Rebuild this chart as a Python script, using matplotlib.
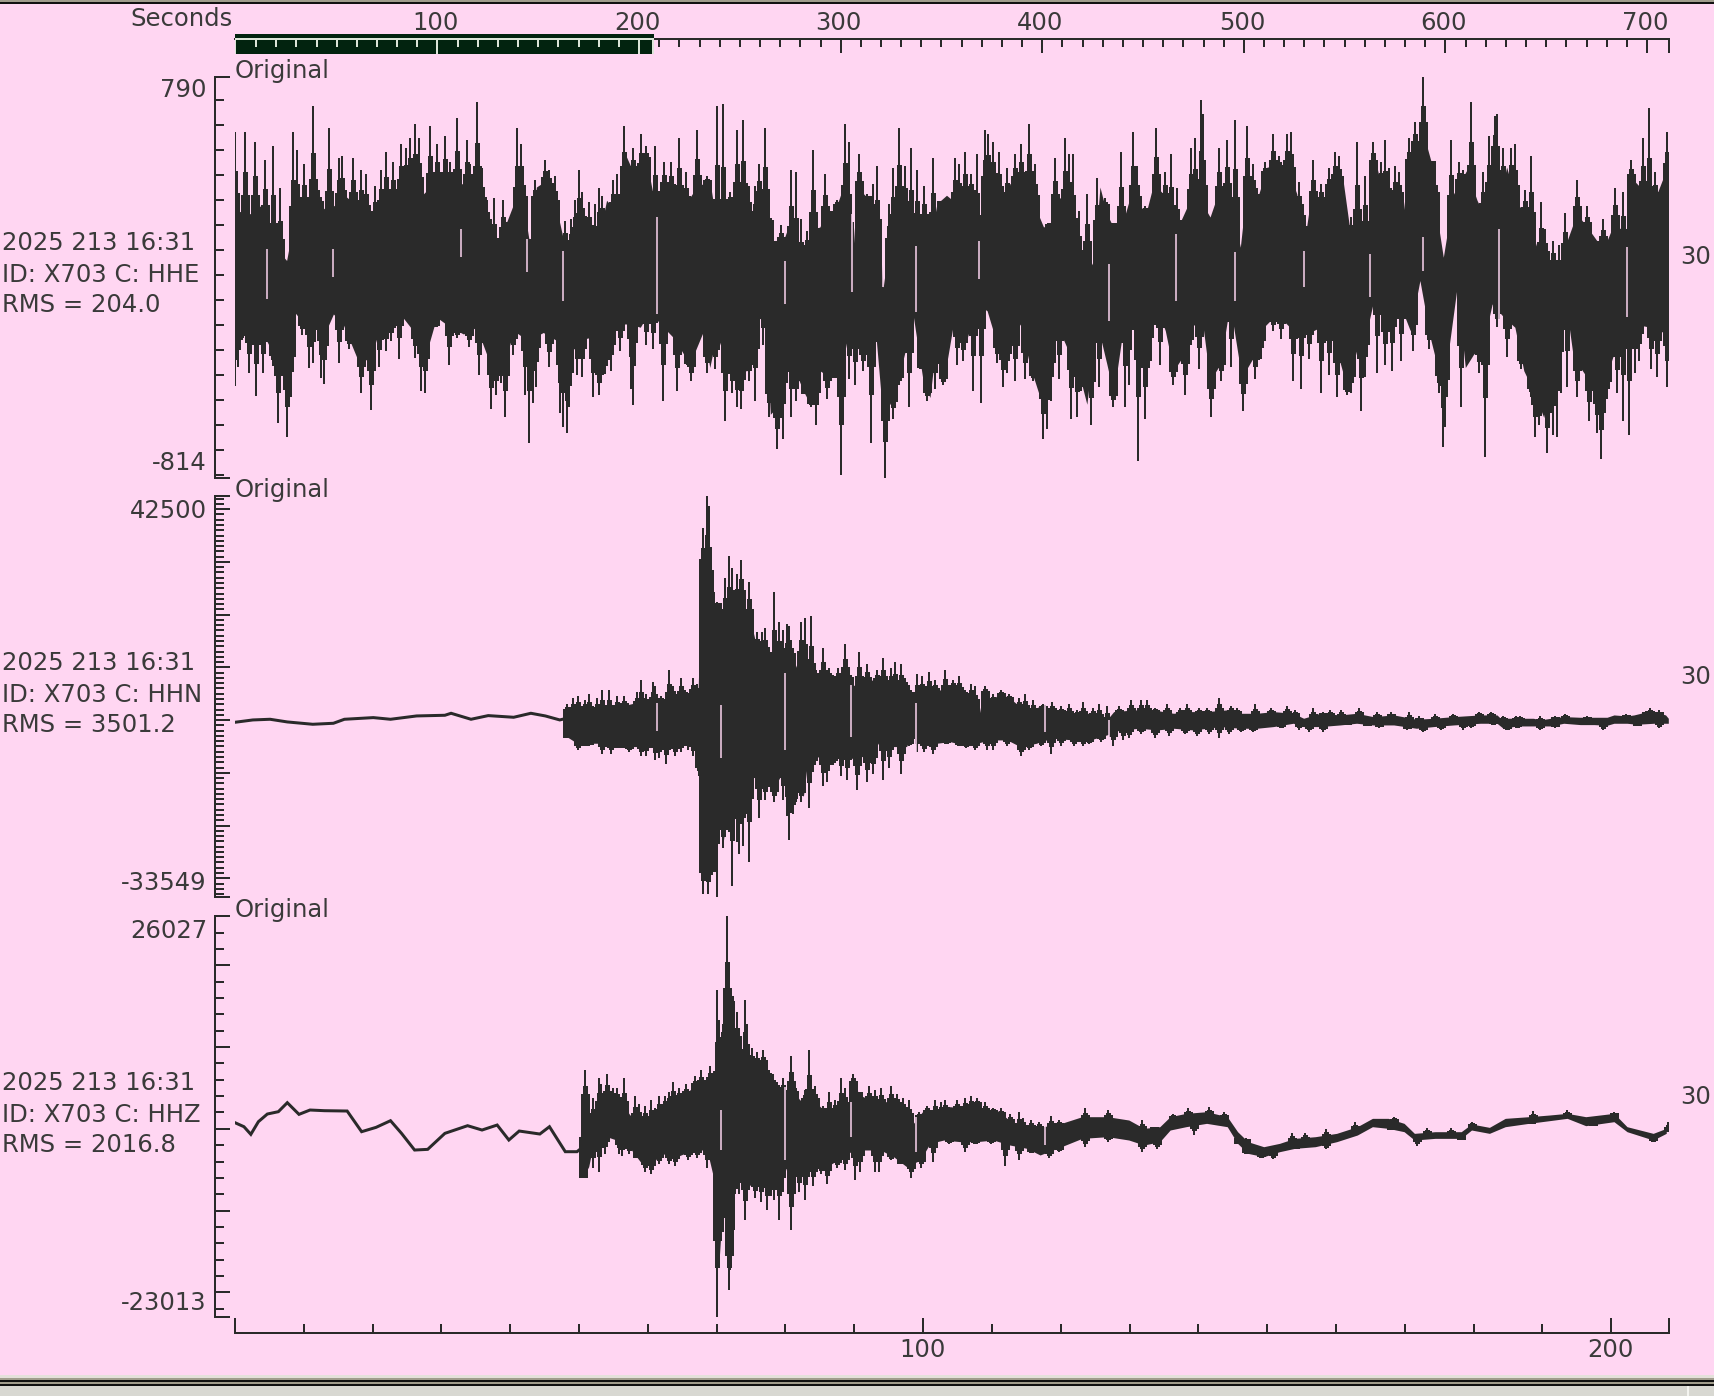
import numpy as np
import matplotlib
matplotlib.use("Agg")
import matplotlib.pyplot as plt
from matplotlib.patches import Rectangle
from matplotlib.transforms import blended_transform_factory
from matplotlib.ticker import FixedLocator, NullFormatter

W, H = 1714, 1396
BG = "#FFD6F2"
INK = "#2A2A2A"
TXT = "#3A3A3A"
GREEN = "#02230F"
LIGHT = "#DCE4D8"

# ---- labels
CHANNELS = ["HHE", "HHN", "HHZ"]
STATION = "X703"
STAMP = "2025 213 16:31"
RMS = ["204.0", "3501.2", "2016.8"]
Y_TOP = [790, 42500, 26027]
Y_BOT = [-814, -33549, -23013]
TOP_LABELS = [100, 200, 300, 400, 500, 600, 700]
BOTTOM_LABELS = [100, 200]

# ---- HHE
E_BODY_UP_T = [0,2.2,4.1,4.6,7.5,8.5,10.9,13.3,14.8,16.2,18.6,20.1,21.6,23.5,25.4,27.4,29.3,32.2,35.1,36.6,37.5,38.0,39.0,40.5,41.9,42.9,43.8,45.3,47.0,48.4,49.7,51.1,52.1,53.0,54.0,56.0,56.9,58.4,59.8,61.3,62.3,64.2,65.2,67.1,
 69.0,70.5,71.5,72.9,74.4,75.1,76.3,77.5,78.2,79.7,80.4,81.4,82.6,83.6,85.0,86.0,87.2,88.4,89.6,90.4,91.8,92.8,93.7,94.2,95.2,96.7,98.6,100.0,101.0,102.0,103.4,104.9,106.8,108.0,109.3,110.7,111.7,112.6,115.1,116.5,117.5,118.5,119.4,121.4,122.3,123.3,124.8,125.7,126.7,127.4,129.1,130.1,131.5,132.5,133.5,134.9,136.6,
 138.8,140.3,141.7,142.7,144.6,146.1,147.0,148.5,150.0,151.4,152.9,154.3,155.3,156.3,158.2,159.6,161.1,162.1,163.5,164.7,165.5,167.4,168.9,169.8,170.8,172.7,173.9,174.7,175.6,177.1,179.0,180.5,181.9,182.9,183.6,184.8,186.3,187.7,189.2,190.2,191.1,192.6,193.6,195.0,196.5,197.9,199.4,200.8,202.0,202.8,204.2,205.7,207.6,208.2]
E_BODY_UP = [256,243,283,150,56,203,310,256,283,310,256,216,283,323,390,323,377,363,363,203,150,29,176,283,283,109,350,377,230,56,190,216,69,163,297,230,470,377,457,243,350,323,270,350,
 377,109,283,310,283,150,337,230,136,136,190,43,29,176,190,256,256,350,2,350,310,190,136,-51,150,310,136,230,123,283,317,283,337,136,403,350,230,363,390,256,190,203,323,256,29,109,29,350,243,203,216,310,270,256,363,323,163,
 297,297,230,310,323,109,337,297,430,430,430,323,109,297,297,377,363,163,203,136,484,256,323,256,484,564,444,230,69,323,417,297,216,564,270,430,283,243,109,69,56,-11,136,243,190,136,136,230,109,390,350,256,390,417]
E_BODY_LO_T = [0.2,1.7,3.6,5.1,6.5,7.7,8.5,10.4,11.9,12.8,14.3,15.7,17.7,19.6,21.1,22.5,24.0,25.9,27.9,29.3,31.3,33.2,35.1,37.1,39.0,40.5,41.9,43.4,44.8,46.8,48.2,49.7,51.6,53.0,54.5,56.0,57.4,58.9,60.3,61.8,63.7,66.1,68.1,
 69.0,70.0,71.5,72.9,74.4,75.3,77.0,77.8,79.2,79.9,81.2,82.6,83.6,85.0,86.5,87.9,89.4,90.8,92.3,93.0,94.0,95.2,96.7,98.6,100.0,101.0,102.0,103.0,104.4,106.3,107.8,109.3,111.2,112.6,114.1,115.6,117.0,118.2,119.4,120.9,122.3,123.8,125.2,126.7,127.7,129.1,130.6,132.0,133.5,135.2,136.4,138.3,
 138.8,140.7,141.7,143.2,144.6,146.3,148.0,149.5,151.4,153.3,155.3,156.7,158.7,160.4,161.6,163.0,164.5,165.7,167.4,168.9,170.8,172.2,173.7,174.9,176.1,177.6,178.8,180.0,181.4,182.7,184.4,186.0,187.3,188.7,190.2,191.6,193.1,194.5,196.5,198.4,199.9,201.8,203.3,205.7,208.2]
E_BODY_LO = [-225,-238,-211,-292,-358,-412,-145,-211,-158,-252,-158,-198,-332,-345,-211,-198,-158,-225,-305,-171,-211,-238,-211,-358,-372,-225,-252,-252,-232,-265,-372,-265,-252,-385,-252,-198,-198,-211,-145,-198,-252,-358,-225,
 -372,-238,-358,-385,-385,-252,-118,-559,-519,-252,-372,-466,-519,-385,-412,-412,-198,-305,-292,-198,-519,-519,-385,-171,-425,-492,-252,-425,-198,-265,-118,-145,-319,-278,-198,-372,-492,-358,-198,-292,-358,-519,-185,-358,-479,-211,-105,-345,-91,-225,-385,-305,
 -198,-211,-425,-358,-118,-412,-332,-211,-158,-211,-185,-225,-198,-332,-452,-305,-225,-78,-211,-91,-225,-24,-252,-385,-358,-51,-372,-319,-278,-118,-171,-211,-385,-466,-572,-385,-51,-332,-412,-506,-358,-198,-198,-211,-238]
E_TIP_UP_T = [0.0,1.4,2.9,4.3,5.5,6.6,8.4,9.0,10.1,11.3,12.2,13.6,15.1,15.6,17.1,18.3,19.1,20.3,21.2,22.0,22.9,24.1,24.9,25.5,26.1,26.7,28.4,29.3,30.5,31.3,32.2,33.7,34.2,35.1,35.9,36.6,37.7,38.9,39.5,41.0,41.5,41.8,42.7,43.6,45.0,45.6,46.5,47.9,48.8,49.4,50.0,50.5,51.4,52.3,52.9,53.4,54.9,55.5,56.6,57.8,59.0,59.8,61.0,62.4,63.3,64.5,65.6,67.1,68.6,70.0,
 70.9,72.0,72.9,73.8,74.7,75.5,76.1,77.0,77.6,79.3,80.8,81.6,82.2,83.1,84.0,84.8,85.7,86.6,87.5,88.6,89.2,90.7,91.8,92.7,93.3,95.0,95.6,96.5,97.3,98.2,99.1,100.2,101.4,102.6,104.6,105.2,106.1,106.9,107.8,109.0,109.5,110.1,111.0,112.2,113.3,114.2,115.4,116.2,118.3,119.1,120.6,121.2,121.8,122.6,123.8,125.2,126.4,127.6,128.7,130.5,131.1,132.2,133.9,135.1,136.0,136.9,138.9,139.5,
 140.4,140.7,143.0,144.1,145.3,147.0,147.9,148.5,149.7,150.8,151.7,152.9,153.4,154.6,155.5,156.6,157.8,159.0,159.8,160.4,162.2,163.0,164.2,165.4,166.5,167.1,167.7,168.6,169.1,170.6,171.5,172.6,173.8,174.4,176.7,177.9,178.4,179.6,181.3,182.2,183.1,183.4,184.3,185.4,186.0,187.5,188.3,189.8,190.4,191.5,192.4,193.3,195.0,196.5,198.8,200.5,201.7,202.9,204.6,205.5,206.4,208.1]
E_TIP_UP = [569,569,529,457,513,345,569,497,441,674,337,585,465,473,465,417,401,353,417,489,449,521,505,545,601,545,593,521,553,449,625,537,441,690,425,297,305,297,208,585,521,433,144,377,457,417,393,216,224,297,417,329,289,281,345,313,377,401,593,505,561,513,513,449,449,545,409,577,393,674,
 682,329,577,617,353,353,441,585,232,200,417,409,224,176,497,184,401,232,297,601,529,481,321,361,433,281,425,585,433,505,417,353,465,289,465,441,489,401,481,577,561,529,489,425,481,521,601,441,208,465,545,481,481,256,321,385,305,208,489,569,433,273,585,409,481,345,505,545,
 698,642,505,537,617,593,441,345,449,561,473,561,569,369,240,457,361,425,489,473,232,529,393,529,449,537,425,433,409,545,609,790,449,409,537,449,417,690,409,553,633,641,505,505,521,337,473,289,184,136,120,248,377,273,224,345,329,457,545,666,409,569]
E_TIP_LO_T = [0,0.5,1.1,2.0,3.1,4.0,5.5,6.3,7.5,8.1,9.8,10.7,11.3,12.5,13.0,15.1,16.5,18.3,19.7,20.9,22.0,22.6,23.8,26.1,27.0,27.6,29.0,31.1,32.2,34.0,35.4,37.2,38.0,38.6,39.2,40.4,42.1,42.7,43.3,43.8,45.6,47.3,47.6,48.2,48.5,49.7,50.5,52.0,52.9,53.7,54.6,56.0,57.5,57.8,59.8,60.7,62.2,64.2,65.9,66.2,68.6,69.7,
 71.2,72.3,72.9,73.5,74.7,75.5,76.7,77.6,78.7,79.6,80.8,81.6,82.8,83.7,84.5,86.0,88.0,89.2,90.1,91.2,92.4,93.0,94.4,95.6,96.5,97.9,99.7,100.5,101.7,102.9,104.9,105.8,107.2,108.4,110.7,111.6,112.2,113.3,114.8,115.9,117.4,118.0,118.6,119.7,121.5,122.3,122.9,124.4,125.5,127.6,129.3,129.9,131.3,132.2,133.1,134.5,136.3,138.0,138.6,
 140.1,141.8,142.7,143.3,144.7,146.5,148.2,149.1,150.8,152.0,153.7,154.9,156.1,157.8,159.0,160.1,161.6,162.2,163.6,164.2,165.9,167.1,168.1,169.4,171.2,173.5,175.0,175.5,175.8,178.2,180.8,181.6,183.4,184.8,186.9,188.3,188.9,189.5,190.7,191.5,192.1,192.7,193.6,195.0,196.8,197.9,198.5,199.4,200.8,201.7,202.6,203.4,204.0,205.8,206.6,208.1]
E_TIP_LO = [-447,-369,-252,-393,-487,-393,-367,-593,-649,-490,-241,-375,-353,-415,-439,-353,-297,-474,-543,-369,-305,-265,-337,-334,-466,-474,-209,-361,-252,-289,-401,-538,-482,-433,-570,-321,-482,-674,-514,-449,-369,-554,-610,-634,-530,-401,-409,-490,-482,-399,-385,-305,-457,-522,-281,-297,-506,-466,-369,-425,-393,-377,
 -586,-474,-530,-538,-425,-506,-281,-570,-698,-658,-570,-506,-466,-530,-602,-498,-802,-417,-441,-385,-674,-337,-814,-578,-441,-530,-377,-506,-457,-441,-361,-345,-466,-514,-353,-449,-393,-425,-417,-425,-658,-618,-506,-417,-578,-570,-466,-602,-449,-530,-530,-441,-746,-578,-345,-361,-441,-482,-313,
 -377,-570,-337,-425,-369,-546,-417,-337,-225,-257,-425,-457,-337,-474,-401,-490,-482,-474,-546,-409,-393,-361,-385,-345,-305,-297,-474,-690,-610,-530,-393,-730,-211,-329,-377,-490,-650,-602,-714,-642,-650,-474,-449,-490,-586,-634,-738,-498,-474,-586,-642,-393,-345,-377,-409,-449]
E_GAP_T = [4.6,14.2,32.8,42.4,47.7,61.3,80.0,89.6,94.2,98.9,108.1,127.0,136.7,145.3,155.3,164.9,172.6,183.7,202.3]
E_GAP_HI = [103,103,183,143,96,230,56,243,69,116,136,42,163,89,96,83,150,183,109]
E_GAP_LO = [-98,-11,69,9,-105,-158,-118,-71,-51,-151,-18,-185,-105,-105,-51,-91,16,-185,-171]

# ---- HHN
N_QUIET_T = [0,2.6,5.1,7.6,11.3,14.3,15.9,20.1,22.6,26.4,30.5,31.4,34.3,36.8,40.5,43.0,45.1,47.2,48.0]
N_QUIET = [-412,30,157,-349,-792,-602,157,473,157,789,915,1294,157,852,536,1294,789,30,283]
N_BODY_UP_T = [48.2,50.1,52.1,54.0,55.9,57.9,59.8,61.8,63.7,65.7,67.3,67.8,68.6,69.3,70.1,70.5,71.0,71.9,73.4,74.9,75.8,77.3,78.2,79.2,79.8,80.7,81.2,82.1,83.1,84.5,86.0,87.5,88.9,89.6,90.9,92.8,94.7,96.2,97.6,98.6,99.1,100.5,102.5,104.4,105.9,107.3,108.0,108.8,109.7,111.2,112.6,114.1,116.0,
 117.0,118.9,121.8,124.3,126.7,127.7,130.6,133.5,136.4,138.3,141.2,144.1,146.1,148.5,150.9,153.8,155.3,157.7,160.6,163.0,165.4,168.4,171.7,174.2,177.1,181.0,183.4,183.9,186.3,188.7,189.7,191.2,193.1,195.5,197.5,199.4,200.4,202.3,203.3,204.7,206.2,207.9,208.3]
N_BODY_UP = [1930,2240,1930,1930,2560,3190,3190,3820,4460,5090,5400,29100,27840,21520,22150,3190,19310,19310,23420,19000,13940,12670,9200,12040,9510,13300,9200,12040,8250,8250,8250,7620,9200,6350,7300,7620,7300,6350,6350,3820,4460,5720,5720,6350,5090,4460,30,5720,3510,5090,4140,2560,1930,
 2680,1930,1290,1290,30,1610,1930,1930,1290,1610,1610,1930,1290,1290,1610,1290,350,1290,980,1290,660,980,160,350,660,980,980,346,346,346,30,346,662,536,536,536,978,788,978,1420,1610,978,346]
N_BODY_LO_T = [48.2,50.1,52.1,53.8,55.5,56.9,58.9,60.8,61.8,63.7,65.7,67.1,67.6,67.8,69.5,69.8,70.5,71.0,71.9,72.4,73.9,75.1,76.3,77.8,78.2,79.5,80.2,80.7,81.6,82.6,83.3,84.5,86.5,87.9,88.9,89.9,90.9,92.3,93.8,95.7,97.6,98.6,100.0,102.0,103.9,105.9,107.8,109.7,112.2,114.1,116.5,
 117.0,118.9,121.8,124.3,126.7,128.6,131.5,134.0,136.4,139.3,143.2,146.1,148.5,150.9,153.8,155.3,157.7,160.6,163.0,165.4,168.4,171.7,174.2,177.1,181.0,183.4,184.3,186.3,188.7,191.2,193.1,195.5,197.5,199.4,200.4,202.3,203.7,206.2,207.9,208.3]
N_BODY_LO = [-3130,-4710,-4390,-4390,-5020,-5020,-5020,-4390,-4390,-5020,-3760,-5020,-10710,-27460,-28410,-15450,-6920,-22720,-11980,-14500,-12610,-10710,-11340,-11980,-13240,-10080,-5660,-16400,-10710,-14500,-6920,-6920,-7550,-6290,-6290,-7550,-6920,-6920,-3760,-5020,-5020,-1860,-4390,-4390,-4080,-4710,-4390,-3760,-3760,-5020,-4390,
 -4080,-3450,-3760,-3760,-2810,-1870,-1550,-1870,-1550,-1870,-1230,-1550,-1550,-1230,-600,-1230,-1230,-920,-600,-920,-920,-1550,-1230,-920,-600,-600,-1550,-1110,-1110,-1110,-602,-855,-855,-981,-602,-602,-792,-602,-602,-602]
N_TIP_UP_T = [48.2,49.1,49.9,50.8,51.4,52.6,53.4,54.3,55.5,56.6,58.4,59.0,59.8,60.7,61.0,61.9,63.0,63.6,64.8,65.4,66.5,67.1,68.0,68.6,68.9,69.1,70.0,70.3,71.2,71.8,72.3,72.9,73.5,74.7,75.8,76.6,77.0,78.4,79.0,79.6,80.2,80.5,80.8,82.2,82.8,83.7,84.5,85.4,86.3,87.7,88.6,89.2,90.7,91.8,93.3,94.1,95.3,95.9,96.8,97.3,98.2,99.1,99.9,100.8,101.7,103.2,104.3,105.2,106.1,106.9,107.5,109.0,110.1,111.3,112.5,113.9,114.8,115.9,
 117.4,118.8,120.0,121.2,122.3,123.2,124.7,125.5,126.7,128.4,130.2,131.6,132.5,133.7,135.4,137.3,138.3,140.1,141.2,143.0,144.7,145.6,148.2,150.5,152.9,154.0,156.6,158.1,159.2,160.7,163.3,165.9,168.0,170.6,172.0,174.4,177.0,180.8,182.5,184.3,186.1,186.8,189.7,191.9,193.3,196.5,202.1,205.0,205.6,207.0]
N_TIP_UP = [3070,4200,4580,3820,4960,4200,5720,5720,4580,4580,5340,7620,4960,7240,6480,4580,9510,6480,7990,5720,7990,6860,36440,42500,40600,27330,22400,12670,26960,31130,28850,27710,30370,26200,16720,16720,17470,24300,18610,17100,18230,17850,13680,18610,19370,19750,9510,13680,9890,9890,14440,9130,12920,10650,9510,11790,9890,11030,10650,7990,5720,8750,8370,9130,7620,9510,7620,8370,5720,6860,6480,6480,4960,5720,4960,4200,4960,3820,
 3060,3440,2680,3060,1930,3440,2300,3060,2680,2680,3820,3820,3820,2300,3060,2300,3060,2300,2300,4200,2680,2300,3060,2300,2680,1930,2300,1550,1930,1930,2300,1550,1550,1550,790,1170,1170,1550,1550,788,788,788,788,788,1168,788,1168,1800,2305,1926]
N_TIP_LO_T = [48.2,49.9,50.8,51.4,53.4,54.6,55.2,56.3,57.2,59.0,59.8,61.0,61.6,62.7,63.9,64.8,65.9,66.5,67.1,67.4,68.0,68.8,69.4,70.0,70.3,70.9,71.5,71.8,72.3,72.9,73.2,73.8,74.4,74.7,75.2,76.1,77.0,78.4,79.6,80.2,80.5,81.1,81.6,82.2,83.4,84.0,85.4,86.0,86.9,88.0,88.9,90.4,91.8,92.7,94.1,95.0,96.8,97.9,99.1,100.2,101.4,103.4,105.2,106.3,107.5,109.3,110.1,112.2,114.2,115.4,
 117.1,118.6,120.0,122.0,123.2,124.1,125.8,127.6,129.0,129.9,131.6,133.7,135.7,138.0,139.8,141.5,143.0,144.4,146.2,148.0,152.0,154.6,156.1,158.1,161.6,164.5,166.2,170.3,172.6,175.2,178.4,179.6,182.8,184.8,186.3,189.6,191.9,198.8,203.7,207.0]
N_TIP_LO = [-3380,-5660,-4900,-4520,-6410,-6410,-5280,-5280,-6040,-6790,-6790,-7550,-7170,-8310,-6790,-6040,-5660,-6790,-7550,-10590,-32960,-32960,-28790,-33549,-21200,-24240,-17790,-21200,-31440,-23100,-25370,-23860,-17790,-26890,-10960,-18550,-15140,-15520,-15140,-18170,-22720,-17790,-15520,-15520,-16650,-9830,-12480,-11720,-8560,-10590,-11340,-13240,-11720,-10210,-11340,-9070,-10210,-4900,-6040,-6040,-6410,-4520,-4900,-5280,-5660,-5660,-5660,-4900,-6790,-5660,
 -4900,-6420,-4900,-4900,-4900,-4520,-4140,-4900,-3760,-3380,-2630,-3380,-3000,-2630,-3000,-2630,-3380,-2630,-2250,-2250,-1490,-1870,-2250,-2250,-730,-1110,-1490,-1870,-2250,-1870,-1870,-1490,-730,-1866,-1487,-1866,-1487,-1866,-1110,-1487]
N_GAP_T = [61.3,70.6,80.0,89.5,98.9,117.7,127.0]
N_GAP_HI = [3190,2880,8880,6670,3190,3190,30]
N_GAP_LO = [-2000,-7240,-5660,-3130,-5970,-2180,-3760]

# ---- HHZ
Z_QUIET_T = [0,1.3,2.3,3.4,4.7,6.3,7.6,9.3,10.9,13.0,16.3,18.4,20.5,22.6,24.2,26.1,28.0,30.5,33.8,35.9,38.1,39.8,41.3,44.3,45.7,48.0,49.7,50.6]
Z_QUIET = [750,260,-677,872,1810,2095,3196,1769,2299,2218,2177,-351,179,994,-555,-2594,-2512,-555,383,-147,464,-1370,-270,-636,260,-2797,-2797,-2186]
Z_BODY_UP_T = [50.2,50.6,51.8,52.6,53.5,55.9,57.4,58.9,61.0,61.8,63.7,65.6,67.1,68.6,69.5,70.5,71.0,71.9,72.4,73.4,74.9,76.8,78.2,79.7,80.7,82.1,84.1,86.0,87.5,89.2,89.6,90.8,92.8,95.7,97.1,98.6,100.1,102.0,103.9,105.9,107.8,108.3,110.7,112.2,114.1,117.5,
 120.1,123.1,126.8,129.9,132.1,134.4,135.9,138.2,141.2,144.2,145.7,147.2,149.5,151.8,154.0,157.0,160.1,163.1,165.3,167.6,169.9,171.4,174.4,178.2,179.7,182.3,184.6,188.0,191.0,193.6,196.3,200.4,202.3,206.1,208.0]
Z_BODY_UP = [-960,3930,670,1890,4130,3520,1690,1080,1080,2300,3520,4340,5560,5560,6380,2300,12900,16160,12900,8010,8010,8010,5150,4340,5150,3520,3520,1890,2300,3110,5970,4130,3320,3320,2300,670,2300,1890,2710,2500,3110,2300,2300,1280,260,260,
 668,1483,1483,1076,56,260,1483,1891,2095,1483,-351,-1574,-2186,-1778,-1167,-963,-555,260,1280,1280,668,-555,-351,-351,586,179,1280,1483,1687,1891,1483,1891,260,-555,56]
Z_BODY_LO_T = [50.2,50.6,51.4,52.1,54.0,56.9,58.9,60.8,61.8,64.2,66.6,68.6,69.8,70.3,71.0,71.7,72.2,73.4,74.4,76.3,78.2,79.7,80.7,82.1,84.1,86.0,88.4,89.9,91.8,93.8,95.7,97.6,99.6,101.0,103.0,105.4,107.8,110.2,112.6,115.1,117.0,
 120.1,123.1,126.8,129.9,132.1,134.4,135.9,138.2,141.2,144.2,145.7,147.2,149.5,151.8,154.0,157.0,160.1,163.1,165.3,167.6,169.9,171.4,174.4,178.2,179.7,182.3,184.6,188.0,191.0,193.6,196.3,200.4,202.3,206.1,208.0]
Z_BODY_LO = [-4020,-5860,-4630,-1780,-960,-1780,-4020,-4220,-3000,-3410,-2590,-2590,-6870,-16860,-7490,-15840,-7490,-4630,-7080,-6260,-6260,-3820,-6670,-5040,-4630,-4630,-3410,-2590,-2590,-2590,-3410,-4630,-3820,-1780,-1370,-1570,-1570,-1370,-1980,-2390,-3200,
 -2186,-1167,-963,-1370,-1982,-1574,-147,260,668,260,-1778,-3001,-3409,-2797,-2390,-2186,-1574,-759,260,56,-351,-1370,-1167,-1167,-147,-555,260,668,994,1280,383,872,-351,-1370,-555]
Z_TIP_UP_T = [50.8,51.4,52.0,52.9,53.2,54.0,54.9,55.5,56.6,58.1,58.7,59.6,60.4,61.0,61.6,62.5,63.0,63.6,64.5,65.6,66.8,67.7,68.4,69.1,70.0,70.3,70.9,71.5,71.8,72.0,72.9,73.2,74.1,74.4,75.2,75.8,76.7,77.6,78.2,78.7,79.6,80.8,81.3,82.8,83.4,84.3,85.4,86.3,87.2,88.0,88.6,89.2,89.8,90.6,92.1,93.0,93.9,95.3,96.2,97.1,97.9,99.4,100.5,101.7,102.6,103.2,104.9,106.1,106.9,107.8,109.0,110.1,111.3,112.7,113.9,114.5,115.7,116.8,118.6,119.7,
 123.5,126.8,131.8,133.6,136.3,138.5,141.6,143.8,146.9,153.6,155.5,158.6,162.7,168.4,173.3,176.7,179.7,188.7,193.6,200.4,208.2]
Z_TIP_UP = [7190,2050,3770,6210,5480,6700,4990,4990,6210,4010,3030,2790,3520,2550,4010,4010,4500,5720,4990,5480,6460,7190,5970,7680,16980,13310,12820,26027,17710,16240,14280,11350,15750,12820,9880,9390,9640,7190,6700,5720,6210,8900,5480,4750,9640,5230,2790,4500,3520,6210,4990,3280,6700,4500,5230,4750,4990,5230,4260,3770,3520,2050,2790,3520,3280,3520,3520,3770,4010,3770,3280,2550,2550,1810,2050,1320,1080,830,1570,1080,
 2503,2299,1076,260,1809,2503,2707,2095,-1167,-476,-555,-65,872,1483,56,56,872,2217,2299,2054,872]
Z_TIP_LO_T = [50.6,52.0,52.9,53.7,55.8,56.3,57.2,58.4,59.6,60.4,61.6,63.0,63.9,65.9,67.1,68.6,70.0,70.9,71.8,72.0,72.6,73.2,74.1,75.5,76.4,77.3,77.9,78.4,79.0,79.6,80.8,81.9,82.8,84.0,85.1,86.0,87.5,88.6,90.1,90.9,93.0,93.6,95.3,96.8,98.2,99.7,101.4,103.7,106.1,107.5,109.8,111.9,113.9,115.7,118.3,119.7,
 123.5,126.8,131.8,134.0,139.3,145.7,146.9,149.1,150.9,154.0,158.6,168.0,171.8,178.2,188.4,197.4,206.1]
Z_TIP_LO = [-6020,-4790,-5280,-3080,-3080,-3330,-3080,-3330,-5280,-5530,-4310,-4310,-4550,-3820,-3570,-4790,-23013,-12620,-19720,-17270,-7970,-7970,-11150,-8460,-8950,-9930,-8220,-8710,-11150,-7730,-12380,-7730,-8710,-7000,-5530,-6750,-4790,-5040,-6260,-5280,-5280,-5280,-3820,-4310,-6020,-4790,-4060,-1860,-2840,-1860,-1860,-4550,-3820,-3000,-3570,-2840,
 -2267,-1574,-2797,-2512,-759,-1574,-3082,-3490,-3735,-2390,-2512,-147,-2063,-1288,750,342,-1574]
Z_GAP_T = [70.6,80.0,89.5,98.9,117.7]
Z_GAP_HI = [2300,5150,3320,1480,260]
Z_GAP_LO = [-2590,-3820,-960,-2800,-1980]

fig = plt.figure(figsize=(W / 100, H / 100), dpi=100, facecolor=BG)
plt.rcParams["font.family"] = "DejaVu Sans"
FS = 17.5


def px_axes(left, top, right, bottom):
    a = fig.add_axes([left / W, 1 - bottom / H, (right - left) / W, (bottom - top) / H])
    a.patch.set_alpha(0)
    return a


def label(x, y, s, ha="left"):
    fig.text(x / W, 1 - y / H, s, ha=ha, va="baseline", fontsize=FS, color=TXT)


PX = 0.72  # points per pixel
panels = [
    dict(top=77, minor=np.arange(-800, 701, 100), major=[], body=(E_BODY_UP_T, E_BODY_UP, E_BODY_LO_T, E_BODY_LO),
         tips=(E_TIP_UP_T, E_TIP_UP, E_TIP_LO_T, E_TIP_LO), gaps=(E_GAP_T, E_GAP_HI, E_GAP_LO), quiet=None),
    dict(top=496, minor=np.arange(-33000, 42001, 1000), major=np.arange(-30000, 40001, 10000),
         body=(N_BODY_UP_T, N_BODY_UP, N_BODY_LO_T, N_BODY_LO), tips=(N_TIP_UP_T, N_TIP_UP, N_TIP_LO_T, N_TIP_LO),
         gaps=(N_GAP_T, N_GAP_HI, N_GAP_LO), quiet=(N_QUIET_T, N_QUIET)),
    dict(top=916, minor=np.arange(-22000, 26001, 2000), major=np.arange(-20000, 20001, 10000),
         body=(Z_BODY_UP_T, Z_BODY_UP, Z_BODY_LO_T, Z_BODY_LO), tips=(Z_TIP_UP_T, Z_TIP_UP, Z_TIP_LO_T, Z_TIP_LO),
         gaps=(Z_GAP_T, Z_GAP_HI, Z_GAP_LO), quiet=(Z_QUIET_T, Z_QUIET)),
]

for i, p in enumerate(panels):
    t0 = p["top"]
    ax = px_axes(235, t0, 1669, t0 + 401)
    ax.set_xlim(0, 208.4)
    ax.set_ylim(Y_BOT[i], Y_TOP[i])
    for s in ("top", "right", "bottom"):
        ax.spines[s].set_visible(False)
    ax.spines["left"].set_position(("outward", 20 * PX))
    ax.spines["left"].set_linewidth(2 * PX)
    ax.spines["left"].set_color(INK)
    ax.set_xticks([])
    ax.yaxis.set_major_locator(FixedLocator(sorted(list(p["major"]) + [Y_BOT[i], Y_TOP[i]])))
    ax.yaxis.set_minor_locator(FixedLocator(p["minor"]))
    ax.yaxis.set_major_formatter(NullFormatter())
    ax.tick_params(axis="y", which="major", direction="in", length=15 * PX, width=2 * PX, color=INK)
    ax.tick_params(axis="y", which="minor", direction="in", length=9 * PX, width=2 * PX, color=INK)

    ut, uv, lt, lv = [np.array(a, float) for a in p["body"]]
    tu, vu, tl, vl = [np.array(a, float) for a in p["tips"]]
    grid = np.union1d(ut, lt)
    up_g = np.interp(grid, ut, uv)
    lo_g = np.interp(grid, lt, lv)
    ax.fill_between(grid, lo_g, up_g, color=INK, lw=0, zorder=3)
    mid = (up_g + lo_g) / 2
    bu = np.interp(tu, grid, up_g)
    bl = np.interp(tl, grid, lo_g)
    mu = np.interp(tu, grid, mid)
    ml = np.interp(tl, grid, mid)
    # stepped column clusters round each peak, narrowing towards its tip
    for width, frac in ((2, 1.0), (5, 0.5), (9, 0.22)):
        top_u = bu + frac * (vu - bu)
        bot_l = bl + frac * (vl - bl)
        ax.vlines(tu, mu, top_u, color=INK, lw=width * PX, zorder=3, antialiased=False)
        ax.vlines(tl, bot_l, ml, color=INK, lw=width * PX, zorder=3, antialiased=False)
    gt, gh, gl = p["gaps"]
    ax.vlines(gt, gl, gh, color=BG, lw=1.5 * PX, zorder=4)
    if p["quiet"] is not None:
        ax.plot(p["quiet"][0], p["quiet"][1], color=INK, lw=3 * PX, solid_joinstyle="miter", zorder=3)

    off = 420 * i
    label(235, t0 + 1, "Original")
    label(207, (97 if i == 0 else 98) + off, str(Y_TOP[i]), ha="right")
    label(207, 470 + off, str(Y_BOT[i]), ha="right")
    label(2, 250 + off, STAMP)
    label(2, 282 + off, f"ID: {STATION} C: {CHANNELS[i]}")
    label(2, 312 + off, f"RMS = {RMS[i]}")
    label(1680, 264 + off, "30")

# top time scale
axt = px_axes(234.5, 39, 1669, 54)
axt.set_xlim(-0.7, 710.9)
axt.set_ylim(0, 1)
axt.set_yticks([])
for s in ("left", "right", "bottom"):
    axt.spines[s].set_visible(False)
axt.spines["top"].set_linewidth(2 * PX)
axt.spines["top"].set_color(INK)
axt.set_axisbelow(False)
majors = TOP_LABELS + [710.9]
axt.xaxis.set_major_locator(FixedLocator(majors))
axt.xaxis.set_minor_locator(FixedLocator(np.arange(10, 710, 10)))
axt.xaxis.set_major_formatter(NullFormatter())
axt.tick_params(axis="x", which="major", bottom=False, top=True, direction="in", length=14 * PX, width=2 * PX, color=INK)
axt.tick_params(axis="x", which="minor", bottom=False, top=True, direction="in", length=8 * PX, width=2 * PX, color=INK)
trans = blended_transform_factory(axt.transData, axt.transAxes)
axt.add_patch(Rectangle((-0.7, 0), 208.0, 4 / 3, transform=trans, color=GREEN, lw=0, clip_on=False, zorder=1))
axt.plot([-0.7, 207.3], [1, 1], transform=trans, color=LIGHT, lw=2 * PX, clip_on=False, zorder=5, solid_capstyle="butt")
green_minor = [v for v in np.arange(10, 207, 10) if v not in TOP_LABELS]
axt.vlines(green_minor, 1 - 8 / 15, 1, transform=trans, color=LIGHT, lw=2 * PX, zorder=5)
axt.vlines([-0.4, 100, 200, 207.0], 0, 1, transform=trans, color=LIGHT, lw=2 * PX, zorder=5)
for v in TOP_LABELS:
    fig.text((235.9 + v * 2.016 - 2) / W, 1 - 30 / H, str(v), ha="center", va="baseline", fontsize=FS, color=TXT)
label(233, 26, "Seconds", ha="right")

# bottom time scale
axb = px_axes(235, 1318, 1669, 1333)
axb.set_xlim(0, 208.4)
axb.set_ylim(0, 1)
axb.set_yticks([])
for s in ("left", "right", "top"):
    axb.spines[s].set_visible(False)
axb.spines["bottom"].set_linewidth(2 * PX)
axb.spines["bottom"].set_color(INK)
axb.xaxis.set_major_locator(FixedLocator([0] + BOTTOM_LABELS + [208.4]))
axb.xaxis.set_minor_locator(FixedLocator(np.arange(10, 208, 10)))
axb.xaxis.set_major_formatter(NullFormatter())
axb.tick_params(axis="x", which="major", direction="in", length=15 * PX, width=2 * PX, color=INK)
axb.tick_params(axis="x", which="minor", direction="in", length=9 * PX, width=2 * PX, color=INK)
for v in BOTTOM_LABELS:
    fig.text((235 + v * 6.88 - 1) / W, 1 - 1357 / H, str(v), ha="center", va="baseline", fontsize=FS, color=TXT)


# window chrome
def band(y0, y1, color, x0=0, x1=W):
    fig.patches.append(Rectangle((x0 / W, 1 - y1 / H), (x1 - x0) / W, (y1 - y0) / H,
                                 transform=fig.transFigure, color=color, lw=0, zorder=10))


for args in [(0, 2, "#A09C8C"), (2, 3.5, "#111111"), (1375, 1378, "#E4E0DA"), (1378, 1380, "#A09C8C"),
             (1380, 1382, "#111111"), (1382, 1384, "#A09C8C"), (1384, 1386, "#111111"), (1386, 1396, "#D8D8D2"),
             (1386, 1396, "#F4F4F0", 1687, 1689)]:
    band(*args)

fig.savefig("out.png", dpi=100, facecolor=BG)
